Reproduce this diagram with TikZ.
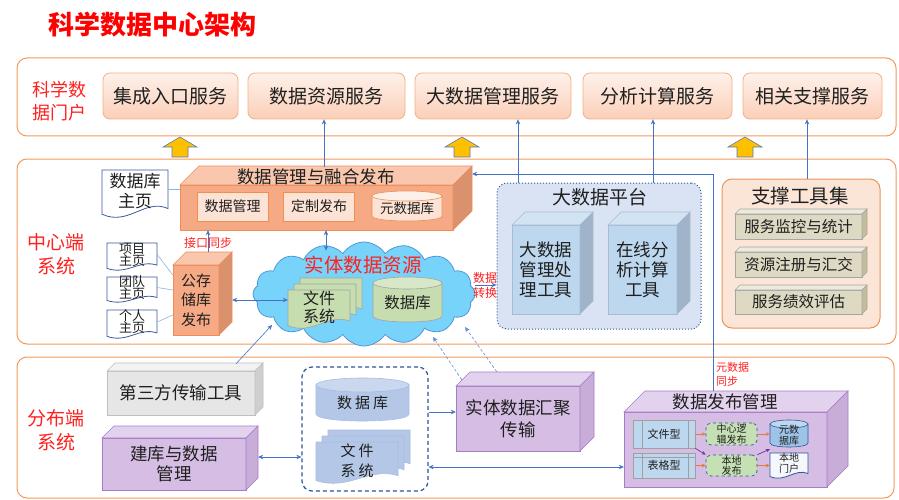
\documentclass[tikz,border=0pt]{standalone}
\usepackage{fontspec}
\setmainfont{Noto Sans CJK SC}
\usetikzlibrary{calc,shapes.symbols,arrows.meta}

\definecolor{secline}{HTML}{F29A5C}
\definecolor{ttred}{HTML}{FF0000}
\definecolor{lblred}{HTML}{FF2020}
\definecolor{svcT}{HTML}{FEF1EA}
\definecolor{svcB}{HTML}{FBCFB8}
\definecolor{svcD}{HTML}{F5B083}
\definecolor{txt}{HTML}{1F1F1F}
\definecolor{arrblue}{HTML}{4472C4}
\definecolor{lline}{HTML}{8FB4E3}
\definecolor{orgF}{HTML}{F5A985}
\definecolor{orgT}{HTML}{F8C7AE}
\definecolor{orgS}{HTML}{D9916E}
\definecolor{orgD}{HTML}{F08D57}
\definecolor{inF}{HTML}{FCE3D5}
\definecolor{inT}{HTML}{FDF0E8}
\definecolor{inD}{HTML}{F0904F}
\definecolor{cloudF}{HTML}{78D3FA}
\definecolor{cloudD}{HTML}{4F97D6}
\definecolor{grnF}{HTML}{C6DDB0}
\definecolor{grnT}{HTML}{D7E7C7}
\definecolor{grnD}{HTML}{A3A3A3}
\definecolor{docF}{HTML}{FFFFFF}
\definecolor{docD}{HTML}{3A5A9C}
\definecolor{platF}{HTML}{DAE3F3}
\definecolor{platD}{HTML}{2F5597}
\definecolor{bluF}{HTML}{BDD7EE}
\definecolor{bluT}{HTML}{D2E3F3}
\definecolor{bluS}{HTML}{9FB4C9}
\definecolor{bluD}{HTML}{A9BCD0}
\definecolor{supF}{HTML}{FBE5D6}
\definecolor{supD}{HTML}{E99559}
\definecolor{khaF}{HTML}{DDD9C3}
\definecolor{khaT}{HTML}{ECEADC}
\definecolor{khaS}{HTML}{C4BD97}
\definecolor{khaD}{HTML}{A6A6A6}
\definecolor{gryF}{HTML}{E7E6E6}
\definecolor{gryT}{HTML}{F2F2F2}
\definecolor{gryS}{HTML}{D0CECE}
\definecolor{gryD}{HTML}{BFBFBF}
\definecolor{purF}{HTML}{D5BDE3}
\definecolor{purT}{HTML}{E3D2EE}
\definecolor{purS}{HTML}{C7ADD8}
\definecolor{purD}{HTML}{A77BC9}
\definecolor{dbF}{HTML}{B4C7E7}
\definecolor{dbT}{HTML}{C9D7EF}
\definecolor{dbD}{HTML}{A8BCE2}
\definecolor{tbF}{HTML}{BDD7EE}
\definecolor{tbD}{HTML}{A0A0A0}
\definecolor{pubF}{HTML}{C5E0B4}
\definecolor{pubD}{HTML}{2F5597}
\definecolor{mdbF}{HTML}{9DC3E6}
\definecolor{mdbT}{HTML}{BDD7EE}
\definecolor{mdbD}{HTML}{2F5597}
\definecolor{ldocF}{HTML}{F4F8FD}
\definecolor{ldocD}{HTML}{2F5597}
\definecolor{oarr}{HTML}{E07B39}
\definecolor{parr}{HTML}{7030A0}
\definecolor{yel}{HTML}{FFC000}
\definecolor{yelD}{HTML}{5A7DB5}

\newcommand\fsz[2]{\fontsize{#1}{#2}\selectfont}

% 3D box: name x1 y1 x2 y2 depth scheme nodeopts text
\newcommand\cube[9]{%
  \path[fill=#7F,draw=#7D,line width=0.6pt] (#2,#3) rectangle (#4,#5);
  \path[fill=#7T,draw=#7D,line width=0.6pt] (#2,#3) -- (#2+#6,#3-#6) -- (#4+#6,#3-#6) -- (#4,#3) -- cycle;
  \path[fill=#7S,draw=#7D,line width=0.6pt] (#4,#3) -- (#4+#6,#3-#6) -- (#4+#6,#5-#6) -- (#4,#5) -- cycle;
  \node[inner sep=0pt,minimum width={#4-#2},minimum height={#5-#3},align=center,#8] (#1) at ({(#2+#4)/2},{(#3+#5)/2}) {#9};
}
% cylinder: name x1 y1 x2 y2 ry scheme nodeopts text
\newcommand\cyl[9]{%
  \pgfmathsetmacro\cylrx{(#4-#2)/2}%
  \path[fill=#7F,draw=#7D,line width=0.6pt] (#2,#3+#6) -- (#2,#5-#6) .. controls (#2,#5+#6/3) and (#4,#5+#6/3) .. (#4,#5-#6) -- (#4,#3+#6) -- cycle;
  \path[fill=#7T,draw=#7D,line width=0.6pt] ({(#2+#4)/2},#3+#6) ellipse [x radius=\cylrx pt, y radius=#6pt];
  \node[inner sep=0pt,minimum width={#4-#2},minimum height={#5-#3},align=center,#8] (#1) at ({(#2+#4)/2},{(#3+#5)/2+#6/2}) {#9};
}
% document outline: x1 y1 x2 y2 style
\newcommand\docpath[5]{%
  \path[#5] ({#1},{#2}) -- ({#3},{#2}) -- ({#3},{(#4)-0.18*((#4)-(#2))})
    .. controls ({(#3)-0.35*((#3)-(#1))},{(#4)-0.4*((#4)-(#2))}) and ({(#1)+0.4*((#3)-(#1))},{(#4)+0.2*((#4)-(#2))}) ..
    ({#1},{(#4)-0.06*((#4)-(#2))}) -- cycle;
}
% document: name x1 y1 x2 y2 scheme nodeopts text
\newcommand\doc[8]{%
  \docpath{#2}{#3}{#4}{#5}{fill=#6F,draw=#6D,line width=0.8pt}
  \node[inner sep=0pt,minimum width={#4-#2},minimum height={#5-#3},align=center,#7] (#1) at ({(#2+#4)/2},{(#3+#5)/2-2}) {#8};
}
% stacked documents: name x1 y1 x2 y2 offset scheme nodeopts text
\newcommand\stack[9]{%
  \docpath{(#2)+2*(#6)}{(#3)-2*(#6)}{(#4)+2*(#6)}{(#5)-2*(#6)}{fill=#7F,draw=#7D,line width=0.6pt}
  \docpath{(#2)+(#6)}{(#3)-(#6)}{(#4)+(#6)}{(#5)-(#6)}{fill=#7F,draw=#7D,line width=0.6pt}
  \docpath{#2}{#3}{#4}{#5}{fill=#7F,draw=#7D,line width=0.6pt}
  \node[inner sep=0pt,minimum width={#4-#2},minimum height={#5-#3},align=center,#8] (#1) at ({(#2+#4)/2},{(#3+#5)/2-2}) {#9};
}
\newcommand\yarrow[1]{%
  \path[yarr] (#1-8,157) -- (#1-8,147) -- (#1-17,147) -- (#1,137) -- (#1+17,147) -- (#1+8,147) -- (#1+8,157) -- cycle;
}

\begin{document}
\begin{tikzpicture}[x=1pt,y=-1pt,
  every node/.style={inner sep=0pt, text=txt},
  sec/.style={draw=secline, line width=1pt, rounded corners=10pt, fill=white},
  svc/.style={draw=svcD, line width=0.8pt, rounded corners=7pt, top color=svcT, bottom color=svcB, minimum height=46pt, font=\fsz{19}{22}},
  arr/.style={draw=arrblue, line width=0.6pt, -{Stealth[length=5pt,width=4.5pt]}},
  darr/.style={draw=arrblue, line width=0.6pt, {Stealth[length=5pt,width=4.5pt]}-{Stealth[length=5pt,width=4.5pt]}},
  dsharr/.style={draw=arrblue!80, line width=0.6pt, dash pattern=on 3pt off 2pt, -{Stealth[length=5pt,width=4.5pt]}},
  lnk/.style={draw=lline, line width=0.6pt},
  redlbl/.style={text=lblred, align=center},
  yarr/.style={fill=yel, draw=yelD, line width=0.6pt},
  inbox/.style={draw=inD, fill=inF, line width=0.8pt, minimum width=71pt, minimum height=29pt, font=\fsz{14}{16}},
  tbl/.style={draw=tbD, fill=tbF, line width=0.5pt, minimum width=62pt, font=\fsz{11}{13}},
  pub/.style={draw=pubD, fill=pubF, dashed, line width=0.7pt, rounded corners=5pt, minimum width=51pt, font=\fsz{10}{10.5}, align=center},
  oarrow/.style={draw=oarr, line width=0.7pt, -{Stealth[length=4pt,width=3.5pt]}},
  parrow/.style={draw=parr, line width=0.7pt, -{Stealth[length=4pt,width=3.5pt]}},
]
\useasboundingbox (0,0) rectangle (899,500);
\fill[white] (0,0) rectangle (899,500);

% title
\node[font=\fsz{26}{30}\bfseries, text=ttred] (title) at (152,25) {科学数据中心架构};

% sections
\draw[sec] (17,58) rectangle (896,136);
\draw[sec] (17,159) rectangle (896,344);
\draw[sec] (17,357) rectangle (894,498);

\node[redlbl, font=\fsz{18}{23}] (lportal) at (59,101) {科学数\\据门户};
\node[redlbl, font=\fsz{19}{24}] (lcenter) at (56,254) {中心端\\系统};
\node[redlbl, font=\fsz{19}{24}] (ldist) at (56,430) {分布端\\系统};

% portal services
\node[svc, minimum width=135pt] (s1) at (170.5,96) {集成入口服务};
\node[svc, minimum width=157pt] (s2) at (326.5,96) {数据资源服务};
\node[svc, minimum width=156pt] (s3) at (493,96) {大数据管理服务};
\node[svc, minimum width=149pt] (s4) at (657.5,96) {分析计算服务};
\node[svc, minimum width=139pt] (s5) at (812.5,96) {相关支撑服务};

% central: data management & fusion publishing
\doc{dbh}{102}{170}{168}{217}{doc}{font=\fsz{17}{20}}{数据库\\主页}
\cube{dmf}{180}{185}{453}{230}{19}{org}{}{}
\node[font=\fsz{17.5}{20}] (dmfT) at (316,177) {数据管理与融合发布};
\node[inbox] (dm1) at (232.5,206.5) {数据管理};
\node[inbox] (dm2) at (319,206.5) {定制发布};
\cyl{dm3}{372}{191}{442}{221}{5}{in}{font=\fsz{13.5}{16}}{元数据库}

% cloud
\node[cloud, cloud puffs=16, cloud puff arc=115, aspect=2.2, draw=cloudD, fill=cloudF, line width=0.8pt, minimum width=222pt, minimum height=104pt] (cloud) at (364,294) {};
\node[font=\fsz{19.5}{22}, text=lblred] (cres) at (363,265) {实体数据资源};
\stack{cfs}{288}{290}{350}{328}{6}{grn}{font=\fsz{16}{18}}{文件\\系统}
\cyl{cdb}{373}{277}{442}{322}{6}{grn}{font=\fsz{15.5}{18}}{数据库}

% public repository
\cube{gcc}{173}{265}{219}{335}{13}{org}{font=\fsz{15}{19.5}}{公存\\储库\\发布}
\doc{pj}{107}{243}{157}{270}{doc}{font=\fsz{13}{12}}{项目\\主页}
\doc{td}{107}{277}{157}{302}{doc}{font=\fsz{13}{12}}{团队\\主页}
\doc{gr}{107}{310}{157}{338}{doc}{font=\fsz{13}{12}}{个人\\主页}

% big data platform
\node[draw=platD, fill=platF, dotted, line width=1pt, rounded corners=10pt, minimum width=204pt, minimum height=146pt] (bdp) at (599,256) {};
\node[font=\fsz{19}{22}] (bdpT) at (600,197) {大数据平台};
\cube{bm1}{512}{225}{580}{314}{13}{blu}{font=\fsz{17.5}{20}}{大数据\\管理处\\理工具}
\cube{bm2}{608}{225}{677}{314}{13}{blu}{font=\fsz{17.5}{20}}{在线分\\析计算\\工具}

% support tools
\node[draw=supD, fill=supF, line width=1pt, rounded corners=10pt, minimum width=158pt, minimum height=149pt] (sup) at (801,253.5) {};
\node[font=\fsz{19.5}{22}] (supT) at (800,196) {支撑工具集};
\cube{sb1}{735}{214}{862}{239}{5}{kha}{font=\fsz{15.5}{18}}{服务监控与统计}
\cube{sb2}{735}{252}{862}{277}{5}{kha}{font=\fsz{15.5}{18}}{资源注册与汇交}
\cube{sb3}{735}{290}{862}{314}{5}{kha}{font=\fsz{15.5}{18}}{服务绩效评估}

% distributed
\cube{tp}{107}{371}{255}{415}{8}{gry}{font=\fsz{17.5}{20}}{第三方传输工具}
\cube{jk}{102}{438}{246}{490}{12}{pur}{font=\fsz{17.5}{20}}{建库与数据\\管理}
\node[draw=platD, dash pattern=on 4pt off 3pt, line width=1.2pt, rounded corners=10pt, minimum width=126pt, minimum height=124pt] (cont) at (365,429) {};
\cyl{ddb}{316}{378}{409}{421}{7}{db}{font=\fsz{15}{18}}{数\hspace{3pt}据\hspace{3pt}库}
\stack{dfs}{316}{442}{398}{483}{6}{db}{font=\fsz{15}{20}}{文\hspace{3pt}件\\系\hspace{3pt}统}
\cube{hj}{456}{386}{580}{451}{14}{pur}{font=\fsz{17.5}{22}}{实体数据汇聚\\传输}
\cube{dpm}{624}{412}{827}{487}{21}{pur}{}{}
\node[font=\fsz{17.5}{20}] (dpmT) at (725,402) {数据发布管理};

\node[tbl, minimum height=28pt] (ft) at (664,434) {文件型};
\node[tbl, minimum height=25pt] (bt) at (664,465.5) {表格型};
\draw[draw=tbD, line width=0.4pt] ([xshift=9pt]ft.north west) -- ([xshift=9pt]ft.south west)
  ([xshift=-7pt]ft.north east) -- ([xshift=-7pt]ft.south east)
  ([xshift=9pt]bt.north west) -- ([xshift=9pt]bt.south west)
  ([xshift=-7pt]bt.north east) -- ([xshift=-7pt]bt.south east)
  ([yshift=-4pt]bt.north west) -- ([yshift=-4pt]bt.north east);
\node[pub, minimum height=22pt] (cp) at (731.5,434) {中心逻\\辑发布};
\node[pub, minimum height=21pt] (lp) at (731.5,465.5) {本地\\发布};
\cyl{mdb}{770}{420}{808}{447}{4}{mdb}{font=\fsz{10}{11}}{元数\\据库}
\doc{lpd}{770}{453}{808}{478}{ldoc}{font=\fsz{10}{11}}{本地\\门户}
\node[redlbl, font=\fsz{11}{14}, align=left, anchor=west] (mdsL) at (716,374) {元数据\\同步};

% yellow block arrows
\yarrow{180}
\yarrow{462}
\yarrow{745}

% connectors to portal
\coordinate (dmftop) at ([yshift=18pt]dmf.north);
\coordinate (u2) at ([xshift=-2.5pt]s2.south);
\draw[arr] (u2 |- dmftop) -- (u2);
\coordinate (u3) at ([xshift=25pt]s3.south);
\draw[arr] (u3 |- bdp.north) -- (u3);
\coordinate (u4) at ([xshift=-4.5pt]s4.south);
\draw[arr] (u4 |- bdp.north) -- (u4);
\coordinate (u5) at ([xshift=-5.5pt]s5.south);
\draw[arr] (u5 |- sup.north) -- (u5);

% metadata sync
\coordinate (mds) at ([xshift=-12.5pt,yshift=21pt]dpm.north);
\coordinate (dmfr) at ([xshift=19pt,yshift=33.5pt]dmf.east);
\draw[arr] (mds) |- (dmfr);

% central links
\coordinate (b1) at ([yshift=2pt]dbh.east);
\draw[lnk] (b1) -- (b1 -| dmf.west);
\draw[lnk] (pj.east) -- ([yshift=25pt]gcc.west);
\draw[lnk] (td.east) -- ([yshift=10pt]gcc.west);
\draw[lnk] (gr.east) -- ([yshift=-15pt]gcc.west);
\coordinate (g1) at ([xshift=13pt]gcc.east);
\draw[darr] (g1) -- (g1 -| cfs.west);
\coordinate (g2) at ([xshift=12pt,yshift=13pt]gcc.north);
\draw[arr] (g2) -- (g2 |- dmf.south);
\node[redlbl, font=\fsz{12}{14}] (jkL) at (208,243) {接口同步};
\coordinate (d1) at ([xshift=9.5pt]dmf.south);
\coordinate (d2) at ([yshift=-9pt]cloud.north);
\draw[darr] (d1) -- (d1 |- d2);
\coordinate (z1) at ([yshift=9pt]cloud.east);
\draw[arr] (z1) -- (z1 -| bdp.west);
\node[redlbl, font=\fsz{12}{15}] (zhL) at (485,285.5) {数据\\转换};

% distributed links
\coordinate (tp1) at ([xshift=55pt,yshift=7pt]tp.north);
\coordinate (cl1) at ([xshift=-92pt,yshift=-31pt]cloud.center);
\draw[arr] (tp1) -- (cl1);
\coordinate (h1) at ([xshift=6pt,yshift=6pt]hj.north west);
\coordinate (cl2) at ([xshift=69pt,yshift=-43pt]cloud.center);
\draw[dsharr] (h1) -- (cl2);
\coordinate (h2) at ([xshift=41pt,yshift=14pt]hj.north west);
\coordinate (cl3) at ([xshift=101pt,yshift=-33pt]cloud.center);
\draw[dsharr] (h2) -- (cl3);
\coordinate (j1) at ([xshift=12pt,yshift=7pt]jk.east);
\draw[darr] (j1) -- (j1 -| cont.west);
\coordinate (c1) at ([yshift=17pt]cont.east);
\draw[arr] (c1) -- (c1 -| hj.west);
\coordinate (c2) at ([yshift=-38pt]cont.east);
\draw[darr] (c2) -- (c2 -| dpm.west);

% publishing internals
\draw[oarrow] (ft.east) -- (cp.west);
\draw[oarrow] (cp.east) -- (cp.east -| mdb.west);
\draw[oarrow] (bt.east) -- (lp.west);
\draw[oarrow] (lp.east) -- (lp.east -| lpd.west);
\draw[parrow] (ft.south east) -- (lp.north west);
\draw[parrow] (lp.north east) -- (mdb.south west);
\end{tikzpicture}
\end{document}
